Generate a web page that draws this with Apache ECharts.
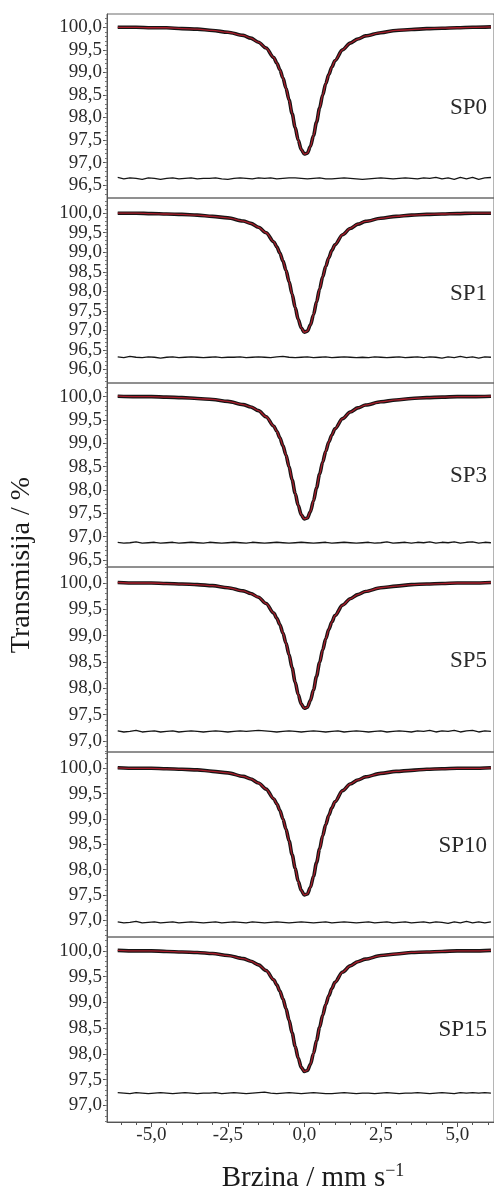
<!DOCTYPE html>
<html>
<head>
<meta charset="utf-8">
<script src="https://cdn.jsdelivr.net/npm/echarts@6/dist/echarts.min.js"></script>
<style>
  html, body { margin: 0; padding: 0; background: #fff; }
  #chart { width: 494px; height: 1191px; }
</style>
</head>
<body>
<div id="chart"></div>
<script>
// velocity grid of the spectra (mm/s)
const velocities = [-6.1, -5.5, -5, -4.5, -4, -3.5, -3, -2.5, -2, -1.75, -1.5, -1.25,
  -1, -0.9, -0.8, -0.7, -0.6, -0.5, -0.4, -0.3, -0.2, -0.1, 0, 0.1, 0.2, 0.3, 0.4, 0.5,
  0.6, 0.7, 0.8, 0.9, 1, 1.25, 1.5, 1.75, 2, 2.5, 3, 3.5, 4, 4.5, 5, 5.5, 6.1];

// transmission (%)
const sp0 = [100.00, 100.00, 99.99, 99.99, 99.97, 99.96, 99.93, 99.89, 99.82, 99.76, 99.67, 99.54,
  99.33, 99.21, 99.06, 98.88, 98.65, 98.39, 98.09, 97.78, 97.50, 97.29, 97.19, 97.21, 97.36, 97.60,
  97.90, 98.21, 98.50, 98.75, 98.95, 99.12, 99.26, 99.50, 99.65, 99.74, 99.81, 99.88, 99.93, 99.95,
  99.97, 99.98, 99.99, 100.00, 100.01];
const sp1 = [100.00, 100.00, 99.99, 99.98, 99.97, 99.95, 99.92, 99.88, 99.80, 99.74, 99.64, 99.50,
  99.27, 99.14, 98.98, 98.78, 98.54, 98.25, 97.93, 97.59, 97.28, 97.06, 96.95, 96.98, 97.14, 97.40,
  97.73, 98.06, 98.37, 98.64, 98.86, 99.05, 99.19, 99.45, 99.61, 99.72, 99.79, 99.87, 99.92, 99.95,
  99.97, 99.98, 99.99, 100.00, 100.00];
const sp3 = [100.01, 100.00, 100.00, 99.99, 99.98, 99.96, 99.94, 99.90, 99.83, 99.78, 99.70, 99.57,
  99.37, 99.26, 99.12, 98.95, 98.75, 98.50, 98.22, 97.93, 97.67, 97.47, 97.38, 97.40, 97.54, 97.77,
  98.05, 98.34, 98.60, 98.83, 99.03, 99.18, 99.31, 99.53, 99.67, 99.76, 99.82, 99.89, 99.93, 99.96,
  99.98, 99.99, 100.00, 100.00, 100.01];
const sp5 = [100.01, 100.00, 100.00, 99.99, 99.98, 99.97, 99.95, 99.91, 99.85, 99.80, 99.73, 99.61,
  99.43, 99.33, 99.21, 99.05, 98.86, 98.64, 98.39, 98.12, 97.88, 97.70, 97.62, 97.64, 97.77, 97.97,
  98.23, 98.49, 98.73, 98.94, 99.12, 99.26, 99.38, 99.58, 99.70, 99.78, 99.84, 99.91, 99.94, 99.97,
  99.98, 99.99, 100.00, 100.00, 100.01];
const sp10 = [100.01, 100.00, 100.00, 99.99, 99.98, 99.97, 99.94, 99.91, 99.84, 99.79, 99.71, 99.59,
  99.40, 99.30, 99.17, 99.00, 98.80, 98.57, 98.30, 98.03, 97.77, 97.59, 97.50, 97.52, 97.65, 97.87,
  98.14, 98.41, 98.67, 98.89, 99.07, 99.22, 99.34, 99.56, 99.69, 99.77, 99.83, 99.90, 99.94, 99.96,
  99.98, 99.99, 100.00, 100.00, 100.01];
const sp15 = [100.01, 100.00, 100.00, 99.99, 99.98, 99.97, 99.95, 99.91, 99.85, 99.80, 99.73, 99.62,
  99.44, 99.34, 99.22, 99.07, 98.88, 98.66, 98.41, 98.15, 97.92, 97.74, 97.66, 97.68, 97.80, 98.01,
  98.26, 98.52, 98.75, 98.96, 99.13, 99.27, 99.39, 99.59, 99.71, 99.79, 99.84, 99.91, 99.94, 99.97,
  99.98, 99.99, 100.00, 100.00, 100.01];

// residual traces (drawn offset below each spectrum)
const resVelocities = [-6.1, -5.9, -5.7, -5.5, -5.3, -5.1, -4.9, -4.7, -4.5, -4.3, -4.1, -3.9, -3.7,
  -3.5, -3.3, -3.1, -2.9, -2.7, -2.5, -2.3, -2.1, -1.9, -1.7, -1.5, -1.3, -1.1, -0.9, -0.7, -0.5,
  -0.3, -0.1, 0.1, 0.3, 0.5, 0.7, 0.9, 1.1, 1.3, 1.5, 1.7, 1.9, 2.1, 2.3, 2.5, 2.7, 2.9, 3.1, 3.3,
  3.5, 3.7, 3.9, 4.1, 4.3, 4.5, 4.7, 4.9, 5.1, 5.3, 5.5, 5.7, 5.9, 6.1];
const sp0Res = [96.67, 96.64, 96.66, 96.65, 96.63, 96.66, 96.65, 96.63, 96.65, 96.66,
  96.64, 96.65, 96.66, 96.64, 96.65, 96.65, 96.66, 96.64, 96.63, 96.65,
  96.66, 96.65, 96.64, 96.66, 96.65, 96.66, 96.64, 96.65, 96.66, 96.66,
  96.65, 96.64, 96.65, 96.66, 96.64, 96.64, 96.65, 96.66, 96.65, 96.64,
  96.63, 96.64, 96.65, 96.66, 96.65, 96.64, 96.65, 96.66, 96.65, 96.64,
  96.66, 96.65, 96.67, 96.64, 96.66, 96.63, 96.67, 96.64, 96.67, 96.63, 96.66, 96.67];
const sp1Res = [96.32, 96.30, 96.33, 96.31, 96.30, 96.32, 96.31, 96.29, 96.31, 96.32,
  96.30, 96.31, 96.32, 96.31, 96.30, 96.31, 96.32, 96.30, 96.31, 96.31,
  96.32, 96.30, 96.31, 96.32, 96.31, 96.30, 96.32, 96.33, 96.31, 96.30,
  96.31, 96.32, 96.30, 96.31, 96.32, 96.30, 96.31, 96.32, 96.31, 96.30,
  96.31, 96.30, 96.32, 96.31, 96.30, 96.31, 96.32, 96.30, 96.31, 96.32,
  96.30, 96.32, 96.31, 96.29, 96.32, 96.30, 96.33, 96.30, 96.32, 96.29, 96.32, 96.31];
const sp3Res = [96.88, 96.86, 96.87, 96.89, 96.86, 96.87, 96.88, 96.86, 96.87, 96.88,
  96.86, 96.87, 96.88, 96.87, 96.86, 96.88, 96.87, 96.86, 96.87, 96.88,
  96.87, 96.86, 96.88, 96.87, 96.86, 96.87, 96.88, 96.87, 96.86, 96.87,
  96.88, 96.87, 96.86, 96.87, 96.88, 96.86, 96.87, 96.88, 96.87, 96.86,
  96.87, 96.88, 96.86, 96.87, 96.89, 96.86, 96.87, 96.88, 96.86, 96.88,
  96.87, 96.89, 96.86, 96.88, 96.87, 96.89, 96.86, 96.88, 96.89, 96.86, 96.88, 96.87];
const sp5Res = [97.19, 97.17, 97.18, 97.20, 97.17, 97.18, 97.19, 97.17, 97.18, 97.19,
  97.17, 97.18, 97.19, 97.18, 97.17, 97.18, 97.19, 97.18, 97.17, 97.18,
  97.19, 97.18, 97.19, 97.20, 97.19, 97.18, 97.17, 97.18, 97.19, 97.18,
  97.17, 97.18, 97.19, 97.18, 97.17, 97.18, 97.19, 97.17, 97.18, 97.19,
  97.18, 97.17, 97.18, 97.19, 97.17, 97.18, 97.19, 97.18, 97.17, 97.19,
  97.18, 97.20, 97.17, 97.19, 97.18, 97.20, 97.17, 97.19, 97.20, 97.17, 97.19, 97.18];
const sp10Res = [96.97, 96.95, 96.96, 96.98, 96.95, 96.96, 96.97, 96.95, 96.96, 96.97,
  96.95, 96.96, 96.97, 96.96, 96.95, 96.96, 96.97, 96.95, 96.96, 96.97,
  96.96, 96.95, 96.97, 96.96, 96.95, 96.96, 96.97, 96.96, 96.95, 96.96,
  96.97, 96.96, 96.95, 96.96, 96.97, 96.95, 96.96, 96.97, 96.96, 96.95,
  96.96, 96.97, 96.95, 96.96, 96.97, 96.95, 96.96, 96.97, 96.95, 96.96,
  96.97, 96.95, 96.97, 96.96, 96.94, 96.97, 96.95, 96.98, 96.95, 96.97, 96.95, 96.97];
const sp15Res = [97.25, 97.24, 97.23, 97.25, 97.24, 97.23, 97.24, 97.25, 97.24, 97.23,
  97.24, 97.25, 97.24, 97.23, 97.24, 97.24, 97.25, 97.23, 97.24, 97.25,
  97.24, 97.23, 97.24, 97.25, 97.26, 97.24, 97.23, 97.24, 97.25, 97.24,
  97.23, 97.24, 97.25, 97.24, 97.23, 97.23, 97.24, 97.25, 97.24, 97.23,
  97.24, 97.24, 97.23, 97.24, 97.25, 97.24, 97.23, 97.24, 97.24, 97.25,
  97.24, 97.23, 97.24, 97.25, 97.24, 97.23, 97.25, 97.24, 97.25, 97.24, 97.25, 97.24];

const sampleNames = ['SP0', 'SP1', 'SP3', 'SP5', 'SP10', 'SP15'];
const spectra = [sp0, sp1, sp3, sp5, sp10, sp15];
const residuals = [sp0Res, sp1Res, sp3Res, sp5Res, sp10Res, sp15Res];

// tick labels
const yTickLabels = [
  [96.5, 97.0, 97.5, 98.0, 98.5, 99.0, 99.5, 100.0],
  [96.0, 96.5, 97.0, 97.5, 98.0, 98.5, 99.0, 99.5, 100.0],
  [96.5, 97.0, 97.5, 98.0, 98.5, 99.0, 99.5, 100.0],
  [97.0, 97.5, 98.0, 98.5, 99.0, 99.5, 100.0],
  [97.0, 97.5, 98.0, 98.5, 99.0, 99.5, 100.0],
  [97.0, 97.5, 98.0, 98.5, 99.0, 99.5, 100.0]
];
const xTickLabels = [-5, -2.5, 0, 2.5, 5];
const xMinorTicks = [-6, -5.5, -4.5, -4, -3.5, -3, -2, -1.5, -1, -0.5, 0.5, 1, 1.5, 2, 3, 3.5, 4, 4.5, 5.5, 6];

// layout
const yMins = [96.215, 95.65, 96.35, 96.79, 96.67, 96.68];
const yMaxs = [100.295, 100.39, 100.293, 100.304, 100.322, 100.27];
const gridTops = [14, 198, 383, 567, 752, 937];
const gridHeights = [184, 185, 184, 185, 185, 185];
const nameY = [108, 294, 476, 661, 846, 1030];
const X_MIN = -6.45, X_MAX = 6.2;

const FONT = 'Liberation Serif, Times New Roman, serif';
const AXIS_COLOR = '#555';
const fmt = v => v.toFixed(1).replace('.', ',');

const zip = (xs, ys) => xs.slice(0, ys.length).map((x, i) => [x, ys[i]]);

const grids = [], xAxes = [], yAxes = [], series = [], graphics = [];

sampleNames.forEach((name, i) => {
  const last = i === sampleNames.length - 1;
  grids.push({
    left: 107, width: 388, top: gridTops[i], height: gridHeights[i],
    show: true, borderColor: '#6a6a6a', borderWidth: 1
  });

  xAxes.push({
    type: 'value', gridIndex: i, min: X_MIN, max: X_MAX, position: 'bottom',
    show: last,
    splitLine: {show: false},
    axisLine: {show: true, onZero: false, lineStyle: {color: AXIS_COLOR}},
    axisTick: {show: true, length: 5, customValues: xTickLabels, lineStyle: {color: AXIS_COLOR}},
    axisLabel: {
      show: true, customValues: xTickLabels, formatter: fmt, margin: 4,
      fontFamily: FONT, fontSize: 19, color: '#2a2a2a'
    }
  });

  // minor ticks every 0.1 on the transmission axis
  const minor = [];
  for (let v = Math.ceil(yMins[i] * 10); v <= Math.floor(yMaxs[i] * 10); v++) minor.push(v / 10);

  yAxes.push({
    type: 'value', gridIndex: i, min: yMins[i], max: yMaxs[i], position: 'left',
    splitLine: {show: false},
    axisLine: {show: true, onZero: false, lineStyle: {color: AXIS_COLOR}},
    axisTick: {show: true, length: 4, customValues: yTickLabels[i], lineStyle: {color: AXIS_COLOR}},
    axisLabel: {
      customValues: yTickLabels[i], formatter: fmt, margin: 5,
      fontFamily: FONT, fontSize: 19, color: '#2a2a2a'
    }
  });
  yAxes.push({
    type: 'value', gridIndex: i, min: yMins[i], max: yMaxs[i], position: 'left',
    splitLine: {show: false},
    axisLine: {show: false, onZero: false},
    axisTick: {show: true, length: 2, customValues: minor, lineStyle: {color: '#777'}},
    axisLabel: {show: false}
  });

  const common = {
    type: 'line', xAxisIndex: i, yAxisIndex: i * 2, showSymbol: false,
    silent: true, animation: false
  };
  // measured points
  series.push(Object.assign({}, common, {
    data: zip(velocities, spectra[i]), smooth: 0.3, smoothMonotone: 'x',
    lineStyle: {color: '#151515', width: 3.6}
  }));
  // fit
  series.push(Object.assign({}, common, {
    data: zip(velocities, spectra[i]), smooth: 0.3, smoothMonotone: 'x',
    lineStyle: {color: '#a81c2a', width: 1.3}
  }));
  // residual
  series.push(Object.assign({}, common, {
    data: zip(resVelocities, residuals[i]),
    lineStyle: {color: '#151515', width: 1.3}
  }));

  graphics.push({
    type: 'text', x: 487, y: nameY[i], silent: true,
    style: {text: name, align: 'right', verticalAlign: 'middle',
      fontFamily: FONT, fontSize: 23, fill: '#2a2a2a'}
  });
});

// minor ticks on the velocity axis
xAxes.push({
  type: 'value', gridIndex: 5, min: X_MIN, max: X_MAX, position: 'bottom',
  splitLine: {show: false},
  axisLine: {show: false, onZero: false},
  axisTick: {show: true, length: 3, customValues: xMinorTicks, lineStyle: {color: AXIS_COLOR}},
  axisLabel: {show: false}
});

graphics.push({
  type: 'text', x: 22, y: 565, rotation: Math.PI / 2, silent: true,
  style: {text: 'Transmisija / %', align: 'center', verticalAlign: 'middle',
    fontFamily: FONT, fontSize: 28, fill: '#1a1a1a'}
});
graphics.push({
  type: 'text', x: 313, y: 1178, silent: true,
  style: {
    text: '{a|Brzina / mm s}{b|\u22121}', align: 'center', verticalAlign: 'middle',
    rich: {
      a: {fontFamily: FONT, fontSize: 29, fill: '#1a1a1a', lineHeight: 32},
      b: {fontFamily: FONT, fontSize: 18, fill: '#1a1a1a', verticalAlign: 'top', lineHeight: 18}
    }
  }
});

const chart = echarts.init(document.getElementById('chart'), null, {renderer: 'canvas'});
chart.setOption({
  animation: false,
  backgroundColor: '#fff',
  grid: grids,
  xAxis: xAxes,
  yAxis: yAxes,
  series: series,
  graphic: graphics
});
</script>
</body>
</html>
